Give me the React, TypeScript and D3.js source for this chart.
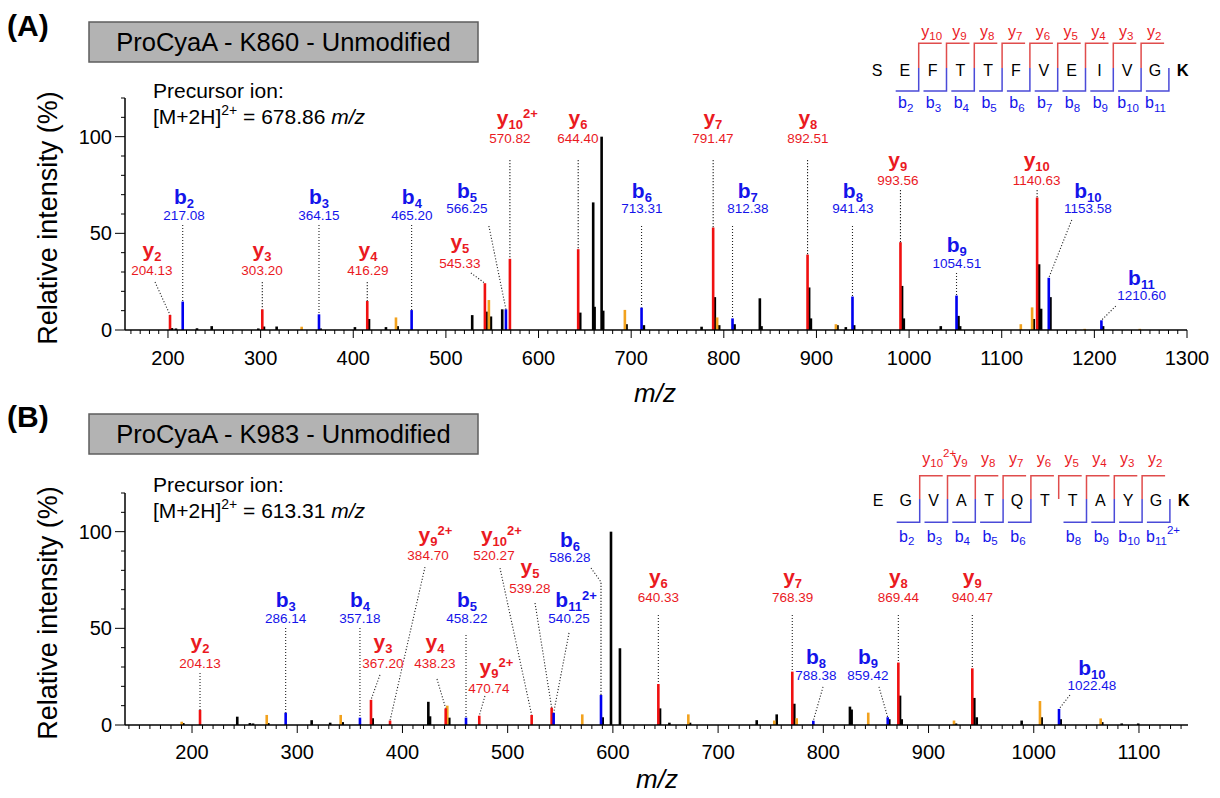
import React from "react";
import * as d3 from "d3";

type Peak = [number, number];
type Ion = { t: "y" | "b"; n: number; z: number; label: string; mz: number; inten: number };
type Cut = [number, number, number]; // cut after residue index, ion number, charge

const FONT = "'Liberation Sans', Arial, Helvetica, sans-serif";
const RED = "#f01010";
const BLUE = "#0000f0";
const ORANGE = "#f2a21e";
const RED_TXT = "#ea1a1f";
const BLUE_TXT = "#1414ea";
const RED_LINE = "#e04c4c";
const BLUE_LINE = "#4a4ad8";

const yTickValues = [0, 50, 100];

// ================= Panel A =================
const titleA = "ProCyaA - K860 - Unmodified";
const precursorA = "678.86";
const xTicksA = [200, 300, 400, 500, 600, 700, 800, 900, 1000, 1100, 1200, 1300];
const seqA = ["S", "E", "F", "T", "T", "F", "V", "E", "I", "V", "G", "K"];
const yCutsA: Cut[] = [[1, 10, 1], [2, 9, 1], [3, 8, 1], [4, 7, 1], [5, 6, 1], [6, 5, 1], [7, 4, 1], [8, 3, 1], [9, 2, 1]];
const bCutsA: Cut[] = [[1, 2, 1], [2, 3, 1], [3, 4, 1], [4, 5, 1], [5, 6, 1], [6, 7, 1], [7, 8, 1], [8, 9, 1], [9, 10, 1], [10, 11, 1]];
const ionsA: Ion[] = [
  { t: "y", n: 2, z: 1, label: "204.13", mz: 202.2, inten: 7.8 },
  { t: "b", n: 2, z: 1, label: "217.08", mz: 215.9, inten: 14.7 },
  { t: "y", n: 3, z: 1, label: "303.20", mz: 301.8, inten: 10.7 },
  { t: "b", n: 3, z: 1, label: "364.15", mz: 363, inten: 8.1 },
  { t: "y", n: 4, z: 1, label: "416.29", mz: 415.1, inten: 15 },
  { t: "b", n: 4, z: 1, label: "465.20", mz: 463, inten: 10.3 },
  { t: "y", n: 5, z: 1, label: "545.33", mz: 542.1, inten: 24.2 },
  { t: "b", n: 5, z: 1, label: "566.25", mz: 564.8, inten: 10.7 },
  { t: "y", n: 10, z: 2, label: "570.82", mz: 569.1, inten: 36.8 },
  { t: "y", n: 6, z: 1, label: "644.40", mz: 642.8, inten: 41.8 },
  { t: "b", n: 6, z: 1, label: "713.31", mz: 711.2, inten: 11.6 },
  { t: "y", n: 7, z: 1, label: "791.47", mz: 788.5, inten: 53 },
  { t: "b", n: 7, z: 1, label: "812.38", mz: 809.4, inten: 6 },
  { t: "y", n: 8, z: 1, label: "892.51", mz: 890.4, inten: 39 },
  { t: "b", n: 8, z: 1, label: "941.43", mz: 938.9, inten: 17.3 },
  { t: "y", n: 9, z: 1, label: "993.56", mz: 990.7, inten: 45.4 },
  { t: "b", n: 9, z: 1, label: "1054.51", mz: 1051.2, inten: 17.8 },
  { t: "y", n: 10, z: 1, label: "1140.63", mz: 1138.2, inten: 68.5 },
  { t: "b", n: 10, z: 1, label: "1153.58", mz: 1150.8, inten: 27 },
  { t: "b", n: 11, z: 1, label: "1210.60", mz: 1207.6, inten: 5 },
];
const blackA: Peak[] = [
  [204.3, 1.0], [208.6, 0.8], [231.3, 0.9], [247.2, 2], [297.5, 0.8], [303.6, 1.8], [317.3, 1.8],
  [364.8, 0.8], [401.8, 1.5], [417, 5.7], [435.3, 1.5], [447.9, 2], [528.4, 7.7], [543.9, 9.5],
  [548.6, 7], [560.8, 10.7], [645, 9], [659, 66], [660.5, 12], [668.1, 100], [669.8, 10], [695, 3],
  [713.7, 2.5], [776, 1.7], [790.3, 17], [795, 2.5], [811.6, 3], [838.9, 16.4], [840.7, 2],
  [892.1, 22], [894, 6], [922.7, 2.5], [931.7, 1.5], [940.7, 2.5], [992.4, 22.8], [994.3, 6],
  [1034.2, 2], [1053.3, 7.3], [1055.1, 2], [1134.6, 5.7], [1140.3, 34], [1142.5, 11],
  [1152.6, 17], [1209.4, 2],
];
const orangeA: Peak[] = [
  [344.3, 1.7], [446.1, 6.5], [546.4, 15.5], [693.2, 10.4], [792.8, 6.5], [921, 3],
  [1120.6, 3], [1132.8, 11.7], [1189.6, 0.6], [1249, 0.6],
];
// label layout: [number anchor m/z, number baseline intensity, leader start m/z, leader start intensity, (bend m/z, bend intensity)]
const labelLayoutA: number[][] = [
  [182.7, 28.4, 186, 24.8],
  [217.3, 56.9, 215.9, 54.3],
  [301.5, 28.4, 301.8, 24.8],
  [363, 56.9, 363, 54.3],
  [415.8, 28.4, 415.1, 24.8],
  [463.3, 56.9, 463, 54.3],
  [515.1, 32.1, 527, 29.5],
  [522.7, 60.5, 546.4, 53.8],
  [569.1, 96.7, 569.1, 87.9],
  [642.5, 96.7, 642.8, 87.9],
  [711.5, 60.5, 711.2, 53.8],
  [788.2, 96.7, 788.5, 87.9],
  [825.9, 60.5, 809.4, 53.8],
  [890.7, 96.7, 890.4, 87.9],
  [939.3, 60.5, 938.9, 53.8],
  [987.8, 75, 990.7, 72.4],
  [1051.5, 32.1, 1051.2, 29.5],
  [1137.8, 75, 1138.2, 72.4],
  [1192.9, 60.5, 1175.6, 56.9],
  [1251.1, 15.5, 1223.1, 12.4],
];

// ================= Panel B =================
const titleB = "ProCyaA - K983 - Unmodified";
const precursorB = "613.31";
const xTicksB = [200, 300, 400, 500, 600, 700, 800, 900, 1000, 1100];
const seqB = ["E", "G", "V", "A", "T", "Q", "T", "T", "A", "Y", "G", "K"];
const yCutsB: Cut[] = [[1, 10, 2], [2, 9, 1], [3, 8, 1], [4, 7, 1], [5, 6, 1], [6, 5, 1], [7, 4, 1], [8, 3, 1], [9, 2, 1]];
const bCutsB: Cut[] = [[1, 2, 1], [2, 3, 1], [3, 4, 1], [4, 5, 1], [5, 6, 1], [7, 8, 1], [8, 9, 1], [9, 10, 1], [10, 11, 2]];
const ionsB: Ion[] = [
  { t: "y", n: 2, z: 1, label: "204.13", mz: 207.6, inten: 7.8 },
  { t: "b", n: 3, z: 1, label: "286.14", mz: 289, inten: 6.4 },
  { t: "b", n: 4, z: 1, label: "357.18", mz: 359.6, inten: 3.8 },
  { t: "y", n: 3, z: 1, label: "367.20", mz: 370.1, inten: 13 },
  { t: "y", n: 9, z: 2, label: "384.70", mz: 388.2, inten: 2.3 },
  { t: "y", n: 4, z: 1, label: "438.23", mz: 441.1, inten: 8.6 },
  { t: "b", n: 5, z: 1, label: "458.22", mz: 460.4, inten: 3.8 },
  { t: "y", n: 9, z: 2, label: "470.74", mz: 473, inten: 4.8 },
  { t: "y", n: 10, z: 2, label: "520.27", mz: 522.8, inten: 5.2 },
  { t: "y", n: 5, z: 1, label: "539.28", mz: 541.8, inten: 9 },
  { t: "b", n: 11, z: 2, label: "540.25", mz: 543.7, inten: 6.3 },
  { t: "b", n: 6, z: 1, label: "586.28", mz: 588.7, inten: 15.5 },
  { t: "y", n: 6, z: 1, label: "640.33", mz: 643.2, inten: 21.2 },
  { t: "y", n: 7, z: 1, label: "768.39", mz: 770.5, inten: 27.6 },
  { t: "b", n: 8, z: 1, label: "788.38", mz: 790.5, inten: 2.2 },
  { t: "b", n: 9, z: 1, label: "859.42", mz: 861.2, inten: 4 },
  { t: "y", n: 8, z: 1, label: "869.44", mz: 871.3, inten: 32.3 },
  { t: "y", n: 9, z: 1, label: "940.47", mz: 941.6, inten: 29.3 },
  { t: "b", n: 10, z: 1, label: "1022.48", mz: 1024, inten: 8.3 },
];
const blackB: Peak[] = [
  [191.7, 1], [243, 4.3], [255, 1], [258, 0.8], [272.5, 1], [313.7, 2.5], [331.3, 1.2], [343.2, 1.5],
  [371.7, 3.5], [424.6, 12], [426.2, 4.5], [444.5, 3.8], [590.3, 4], [598.2, 100], [606.7, 39.7],
  [644.8, 8.6], [653.7, 1.2], [673.3, 1.2], [736.7, 2.5], [755.7, 5.5], [772.4, 11], [825.3, 9.5],
  [826.9, 8], [862.7, 3], [872.9, 15.2], [874.5, 3], [926.1, 0.8], [943.5, 14], [945.8, 4],
  [988.5, 2.3], [1007.5, 4], [1025.6, 3], [1065.1, 1.5], [1083.6, 0.8], [1099.3, 0.8],
];
const orangeB: Peak[] = [
  [190.2, 1.7], [271, 5.2], [341.3, 5.2], [442.6, 10], [570.9, 5.5], [671.7, 5.5], [753.4, 2.3],
  [774.7, 3.5], [842.7, 6.4], [924.2, 2.3], [1005.9, 12.4], [1063.6, 3.4],
];
const labelLayoutB: number[][] = [
  [207.6, 29.5, 207.6, 26.9],
  [289, 52.8, 289, 50.2],
  [359.6, 52.8, 359.6, 50.2],
  [381.5, 29.5, 378.6, 25.9],
  [424.3, 85.3, 421.4, 81.7],
  [430.9, 29.5, 432.8, 23.8],
  [461.3, 52.8, 460.4, 46.6],
  [482.2, 16.6, 478.4, 15],
  [487, 85.3, 492.7, 81.2],
  [521.2, 68.3, 526, 63.1],
  [558.3, 52.8, 558.3, 47.6],
  [559.2, 84.3, 579.2, 81.2, 588.7, 74],
  [643.2, 63.6, 643.2, 56.9],
  [770.8, 63.6, 770.5, 56.9],
  [793, 23.3, 799.7, 19.7],
  [842.4, 23.3, 852.9, 19.7],
  [871.3, 63.6, 871.3, 56.9],
  [941.6, 63.6, 941.6, 56.9],
  [1055.3, 18.1, 1034.4, 15.5],
];

// ================= helpers =================
function ionMainWidth(t: string, n: number, size: number, sub: number, bold: boolean) {
  const w = bold ? (t === "y" ? 0.556 : 0.611) : t === "y" ? 0.5 : 0.556;
  return w * size + String(n).length * 0.556 * sub;
}

function IonText(props: {
  cx: number; y: number; t: string; n: number; z: number; size: number; sub: number;
  bold: boolean; color: string; subDy: number; supRise: number;
}) {
  const { cx, y, t, n, z, size, sub, bold, color, subDy, supRise } = props;
  const w = ionMainWidth(t, n, size, sub, bold);
  return (
    <text x={cx - w / 2} y={y} fill={color} fontFamily={FONT} fontSize={size} fontWeight={bold ? 700 : 400}>
      {t}
      <tspan fontSize={sub} dy={subDy}>{n}</tspan>
      {z > 1 ? <tspan fontSize={sub} dy={-subDy - supRise}>{z + "+"}</tspan> : null}
    </text>
  );
}

function Spectrum(props: {
  xDomain: [number, number]; xRange: [number, number]; yRange: [number, number];
  xTicks: number[]; ions: Ion[]; black: Peak[]; orange: Peak[]; layout: number[][];
  tickLabelY: number;
}) {
  const { xDomain, xRange, yRange, xTicks, ions, black, orange, layout, tickLabelY } = props;
  const x = d3.scaleLinear().domain(xDomain).range(xRange);
  const y = d3.scaleLinear().domain([0, 120]).range(yRange);
  const X0 = xRange[0];
  const Y0 = y(0);
  const minorX = d3.range(Math.ceil(xDomain[0] / 10) * 10, xDomain[1] + 1e-6, 10);
  const minorY = d3.range(0, 121, 10);
  const barW = 2.6;
  const bar = (p: Peak, color: string, key: string) => (
    <rect key={key} x={x(p[0]) - barW / 2} y={y(p[1])} width={barW} height={Math.max(0.6, Y0 - y(p[1]))} fill={color} />
  );
  const line = d3.line();
  return (
    <g>
      {black.map((p, i) => bar(p, "#000", "k" + i))}
      {orange.map((p, i) => bar(p, ORANGE, "o" + i))}
      {ions.map((ion, i) => bar([ion.mz, ion.inten], ion.t === "y" ? RED : BLUE, "i" + i))}
      {ions.map((ion, i) => {
        const L = layout[i];
        const pts: [number, number][] = [[x(L[2]), y(L[3])]];
        if (L.length > 4) pts.push([x(L[4]), y(L[5])]);
        pts.push([x(ion.mz), y(ion.inten)]);
        return (
          <path key={"l" + i} d={line(pts) || ""} stroke="#222" strokeWidth={1.1} strokeDasharray="1.1 1.9" fill="none" />
        );
      })}
      {ions.map((ion, i) => {
        const L = layout[i];
        const cx = x(L[0]);
        const ny = y(L[1]);
        const color = ion.t === "y" ? RED_TXT : BLUE_TXT;
        return (
          <g key={"t" + i}>
            <IonText cx={cx} y={ny - (ion.t === "y" ? 18.5 : 15.5)} t={ion.t} n={ion.n} z={ion.z}
              size={21} sub={13} bold={true} color={color} subDy={4} supRise={7} />
            <text x={cx} y={ny} textAnchor="middle" fill={color} fontFamily={FONT} fontSize={13.5}>{ion.label}</text>
          </g>
        );
      })}
      {/* x axis */}
      <line x1={X0} x2={xRange[1]} y1={Y0} y2={Y0} stroke="#000" strokeWidth={1.5} />
      {minorX.map((v) => (
        <line key={"mx" + v} x1={x(v)} x2={x(v)} y1={Y0} y2={Y0 + (v % 100 === 0 ? 8 : 4)} stroke="#000" strokeWidth={1} />
      ))}
      {xTicks.map((v) => (
        <text key={"xl" + v} x={x(v)} y={tickLabelY} textAnchor="middle" fontFamily={FONT} fontSize={20}>{v}</text>
      ))}
      {/* y axis */}
      <line x1={X0} x2={X0} y1={Y0} y2={yRange[1]} stroke="#000" strokeWidth={1.5} />
      {minorY.map((v) => (
        <line key={"my" + v} x1={X0 - (v % 50 === 0 ? 10 : 4)} x2={X0} y1={y(v)} y2={y(v)} stroke="#000" strokeWidth={1} />
      ))}
      {yTickValues.map((v) => (
        <text key={"yl" + v} x={X0 - 13} y={y(v) + 7} textAnchor="end" fontFamily={FONT} fontSize={20}>{v}</text>
      ))}
    </g>
  );
}

function SeqMap(props: {
  seq: string[]; yCuts: Cut[]; bCuts: Cut[]; x0: number;
  yLab: number; top: number; mid: number; bottom: number; letterY: number; bLab: number;
}) {
  const { seq, yCuts, bCuts, x0, yLab, top, mid, bottom, letterY, bLab } = props;
  const step = 27.8;
  const px = d3.scaleLinear().domain([0, seq.length - 1]).range([x0, x0 + step * (seq.length - 1)]);
  const cutX = (i: number) => px(i) + step / 2;
  const arm = 23;
  return (
    <g>
      {seq.map((aa, i) => (
        <text key={"aa" + i} x={px(i)} y={letterY} textAnchor="middle" fontFamily={FONT}
          fontSize={i === seq.length - 1 ? 16.5 : 16} fontWeight={i === seq.length - 1 ? 700 : 400}>{aa}</text>
      ))}
      {yCuts.map(([c, n, z]) => {
        const cx = cutX(c);
        return (
          <g key={"yc" + c}>
            <path d={`M${cx},${mid}V${top}H${cx + arm}`} stroke={RED_LINE} strokeWidth={1.5} fill="none" />
            <IonText cx={cx + 13} y={yLab} t="y" n={n} z={z} size={16} sub={11.5} bold={false}
              color={RED_TXT} subDy={3.5} supRise={7} />
          </g>
        );
      })}
      {bCuts.map(([c, n, z]) => {
        const cx = cutX(c);
        return (
          <g key={"bc" + c}>
            <path d={`M${cx},${mid}V${bottom}H${cx - arm}`} stroke={BLUE_LINE} strokeWidth={1.5} fill="none" />
            <IonText cx={cx - 13} y={bLab} t="b" n={n} z={z} size={16} sub={11.5} bold={false}
              color={BLUE_TXT} subDy={3.5} supRise={8} />
          </g>
        );
      })}
    </g>
  );
}

function Header(props: { tag: string; title: string; tagY: number; boxY: number; precursor: string; precY: number }) {
  const { tag, title, tagY, boxY, precursor, precY } = props;
  return (
    <g fontFamily={FONT}>
      <text x={7} y={tagY} fontSize={30} fontWeight={700}>{tag}</text>
      <rect x={89} y={boxY} width={389} height={40} fill="#b3b3b3" stroke="#5e5e5e" strokeWidth={1.5} />
      <text x={283.5} y={boxY + 28.5} textAnchor="middle" fontSize={25.5}>{title}</text>
      <text x={153} y={precY} fontSize={21}>Precursor ion:</text>
      <text x={153} y={precY + 26} fontSize={21}>
        [M+2H]<tspan fontSize={14} dy={-9}>2+</tspan>
        <tspan dy={9}>{" = " + precursor + " "}</tspan>
        <tspan fontStyle="italic">m/z</tspan>
      </text>
    </g>
  );
}

export default function App() {
  return (
    <svg width={1220} height={798} viewBox="0 0 1220 798"
      style={{ position: "absolute", left: 0, top: 0, display: "block", background: "#fff" }}>
      <rect x={0} y={0} width={1220} height={798} fill="#fff" />
      {/* Panel A */}
      <Header tag="(A)" title={titleA} tagY={36} boxY={22} precursor={precursorA} precY={98} />
      <SeqMap seq={seqA} yCuts={yCutsA} bCuts={bCutsA} x0={877}
        yLab={36.5} top={43.3} mid={68} bottom={91} letterY={76} bLab={108} />
      <Spectrum xDomain={[153.6, 1300]} xRange={[125, 1187]} yRange={[330, 98]} xTicks={xTicksA}
        ions={ionsA} black={blackA} orange={orangeA} layout={labelLayoutA} tickLabelY={365} />
      <text transform="translate(57,218) rotate(-90)" textAnchor="middle" fontFamily={FONT} fontSize={27}>Relative intensity (%)</text>
      <text x={655} y={402} textAnchor="middle" fontFamily={FONT} fontSize={26} fontStyle="italic">m/z</text>

      {/* Panel B */}
      <Header tag="(B)" title={titleB} tagY={427} boxY={414} precursor={precursorB} precY={492} />
      <SeqMap seq={seqB} yCuts={yCutsB} bCuts={bCutsB} x0={878}
        yLab={463.5} top={475.7} mid={499} bottom={522.3} letterY={505.5} bLab={541.5} />
      <Spectrum xDomain={[136.3, 1146.6]} xRange={[125, 1188]} yRange={[725, 493]} xTicks={xTicksB}
        ions={ionsB} black={blackB} orange={orangeB} layout={labelLayoutB} tickLabelY={759} />
      <text transform="translate(57,613) rotate(-90)" textAnchor="middle" fontFamily={FONT} fontSize={27}>Relative intensity (%)</text>
      <text x={657} y={788} textAnchor="middle" fontFamily={FONT} fontSize={26} fontStyle="italic">m/z</text>
    </svg>
  );
}
